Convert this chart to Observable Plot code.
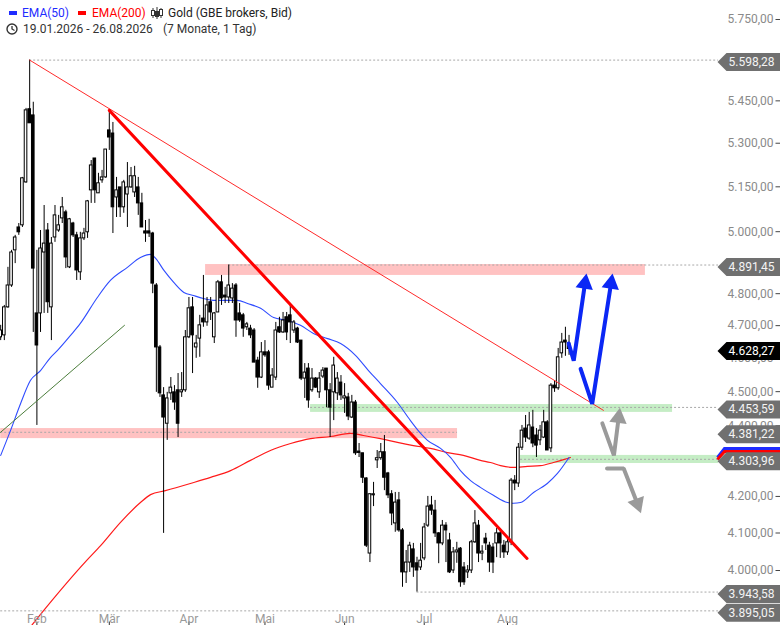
<!DOCTYPE html>
<html><head><meta charset="utf-8">
<script src="https://cdn.jsdelivr.net/npm/d3@7"></script>
<script src="https://cdn.jsdelivr.net/npm/@observablehq/plot@0.6"></script>
<style>
body{margin:0;background:#fff;font-family:Roboto,Arial,sans-serif;}
#wrap{position:relative;width:780px;height:625px;overflow:hidden;}
#hdr{position:absolute;left:0;top:0;width:400px;height:40px;font-size:12px;color:#333;}
#hdr .t{position:absolute;line-height:16px;white-space:nowrap;}
#hdr .sw{position:absolute;width:8px;height:4px;}
#hdr svg{position:absolute;}
</style></head><body>
<div id="wrap"><div id="chart"></div>
<div id="hdr">
  <div class="sw" style="left:9px;top:11px;background:#1f2cff"></div>
  <div class="t" style="left:22px;top:5px;color:#1f2cff">EMA(50)</div>
  <div class="sw" style="left:78px;top:11px;background:#ff0000"></div>
  <div class="t" style="left:92px;top:5px;color:#ff0000">EMA(200)</div>
  <svg style="left:151px;top:7px" width="12" height="12" viewBox="0 0 12 12">
    <line x1="2" y1="1" x2="2" y2="11" stroke="#333"/><rect x="0.5" y="3.5" width="3" height="5" fill="#fff" stroke="#333"/>
    <line x1="6" y1="0" x2="6" y2="12" stroke="#333"/><rect x="4.5" y="4.5" width="3" height="5" fill="#333" stroke="#333"/>
    <line x1="10" y1="1" x2="10" y2="11" stroke="#333"/><rect x="8.5" y="2.5" width="3" height="6" fill="#fff" stroke="#333"/>
  </svg>
  <div class="t" style="left:168px;top:5px;color:#222">Gold (GBE brokers, Bid)</div>
  <svg style="left:6px;top:23px" width="12" height="12" viewBox="0 0 12 12">
    <circle cx="6" cy="6" r="5" fill="none" stroke="#333" stroke-width="1.4"/>
    <polyline points="6,3 6,6 8.5,7.5" fill="none" stroke="#333" stroke-width="1.3"/>
  </svg>
  <div class="t" style="left:23px;top:21px">19.01.2026 - 26.08.2026</div>
  <div class="t" style="left:163px;top:21px">(7 Monate, 1 Tag)</div>
</div>
</div>
<script>
// ---- Candles (trading-day index = position in arrays) ----
const open  = [4664,4670,4757,4826,4939,5014,5021,5165,5420,5398,4738,4738,4932,5004,4757,4981,5004,5044,5064,4884,
5027,4988,4868,4978,4998,5138,5247,5128,5172,5182,5345,5334,5114,5148,5081,5124,5148,5131,5148,5094,
5001,5001,4994,4826,4633,4489,4406,4495,4498,4504,4498,4504,4664,4757,4633,4660,4722,4710,4773,4664,
4741,4836,4794,4788,4785,4826,4738,4732,4695,4691,4685,4593,4542,4618,4618,4512,4542,4695,4679,4726,
4732,4685,4691,4654,4539,4569,4504,4539,4498,4545,4569,4504,4498,4495,4527,4480,4483,4424,4468,4326,
4321,4250,4045,4203,4301,4307,4324,4264,4206,4126,4189,4107,3995,4021,4056,4019,4008,4032,4120,4175,
4161,4099,4072,4120,4080,4000,4048,4058,4008,3995,4000,4075,4120,4045,4085,4066,4061,4072,4099,4066,
4048,4075,4244,4236,4337,4392,4363,4395,4372,4358,4366,4410,4335,4518,4510,4615,4654,4645];
const high  = [4701,4763,4884,4939,4988,5027,5182,5423,5598.28,5445,4939,5004,5087,5027,4981,5087,5054,5114,5071,5044,
5031,4998,4998,5011,5104,5240,5247,5196,5206,5278,5416,5373,5182,5148,5172,5233,5216,5220,5182,5128,
5037,5041,4998,4832,4639,4512,4498,4542,4518,4554,4557,4685,4788,4788,4670,4732,4858,4788,4788,4741,
4842,4858,4820,4891.45,4832,4832,4769,4738,4710,4701,4691,4603,4648,4654,4624,4569,4710,4726,4741,4741,
4763,4716,4695,4654,4584,4584,4569,4542,4557,4572,4569,4524,4603,4557,4548,4524,4495,4489,4474,4349,
4321,4252,4208,4239,4329,4349,4372,4267,4216,4211,4211,4112,4053,4075,4072,4035,4072,4126,4200,4200,
4189,4101,4134,4128,4099,4061,4075,4061,4021,4013,4080,4161,4134,4066,4099,4075,4072,4112,4107,4080,
4085,4250,4258,4349,4401,4430,4439,4445,4392,4401,4445,4415,4524,4533,4630,4676,4695,4670];
const low   = [4654,4654,4754,4820,4896,4988,5014,5162,5370,4679,4401,4679,4738,4738,4654,4965,4998,5027,4880,4880,
4981,4842,4842,4971,4978,5094,5094,5128,5162,5179,5275,4994,5047,5047,5061,5014,5145,5114,5054,5014,
4965,4981,4800,4498,4483,4099,4358,4474,4445,4366,4483,4498,4660,4554,4600,4603,4695,4698,4716,4645,
4741,4763,4769,4769,4769,4664,4710,4664,4685,4660,4587,4510,4539,4603,4504,4512,4533,4676,4676,4654,
4645,4676,4645,4533,4480,4451,4498,4510,4480,4539,4453,4366,4415,4474,4474,4436,4415,4421,4315,4309,
4236,4061,4021,4172,4278,4301,4216,4194,4120,4102,4102,3956,3966,3995,3982,3943.58,4000,4026,4115,4148,
4088,4018,4066,4021,3992,3992,4019,3956,3961,3979,3992,4072,4021,4026,4053,3995,3992,4034,4032,4032,
4040,4066,4216,4225,4329,4352,4358,4337,4309,4343,4363,4329,4323,4498,4504,4600,4606,4609];
const close = [4685,4757,4826,4932,4981,4998,5179,5416,5370,4880,4639,4945,4961,4773,4961,5054,5021,5081,4916,5041,
4988,4874,4978,4994,5101,5223,5138,5162,5182,5278,5320,5081,5138,5081,5165,5148,5186,5186,5094,5014,
4994,4994,4832,4633,4495,4424,4480,4512,4468,4406,4504,4664,4754,4670,4645,4701,4710,4763,4741,4738,
4836,4785,4788,4826,4816,4716,4716,4691,4704,4670,4587,4542,4618,4609,4518,4548,4685,4679,4716,4679,
4710,4710,4648,4539,4557,4474,4539,4512,4539,4563,4504,4453,4578,4539,4489,4486,4427,4468,4321,4322,
4252,4066,4206,4206,4307,4324,4252,4203,4153,4183,4107,3995,4021,4066,4008,4000,4026,4115,4172,4161,
4099,4072,4120,4107,3995,4048,4053,3969,3969,4000,4075,4126,4045,4050,4072,4021,4021,4099,4072,4048,
4075,4244,4236,4337,4386,4366,4401,4349,4343,4386,4410,4329,4518,4510,4603,4648,4648,4628.27];

// ---- Moving averages (read at sample positions) ----
const ema50Idx = [0,2.7,5.5,8.2,11,13.8,15.7,19.3,22,26.7,30.3,35,38.6,41.4,42.8,45.1,47.8,50.6,53.3,56,58.8,62.7,65.4,68.2,71.8,75.4,79.2,82.8,86.4,90.3,93.9,98,101.6,104.9,109.6,113.2,116,117.9,121.5,124.3,127,129.8,132.5,136.1,140,141.7,143.6,147.2,151,153.8,157];
const ema50Val = [4315,4386,4465,4533,4563,4603,4624,4670,4707,4788,4842,4884,4916,4926,4913,4874,4836,4804,4794,4785,4779,4779,4779,4769,4754,4725,4716,4701,4676,4660,4645,4609,4563,4524,4468,4415,4378,4358,4335,4309,4272,4244,4225,4203,4183,4181,4183,4211,4236,4264,4309];
const ema200Idx = [7.5,11,23.7,27.6,33.1,38.6,41.4,45.5,52.4,58,63.5,69,74.5,80.1,85.6,91.1,96.6,100.2,104.9,109.6,114,118.7,123.4,127.8,132.5,135.3,138.1,141.7,145.5,149.1,152.7,155.5,157.4];
const ema200Val = [3846,3886,4026,4066,4129,4183,4205,4216,4236,4253,4272,4301,4329,4349,4363,4369,4378,4372,4363,4352,4343,4335,4323,4315,4301,4295,4286,4281,4284,4286,4295,4303,4309];

// ---- Axis ticks ----
const monthIdx = [10,30,52,73,95,117,140];
const monthLabels = ["Feb","Mär","Apr","Mai","Jun","Jul","Aug"];
const yTicks = [5750,5450,5300,5150,5000,4800,4700,4600,4500,4400,4200,4100,4000];

// ---- Price levels / tags ----
const levelPrices = [5598.28,4891.45,4453.59,4381.22,4303.96,3943.58,3895.05];
const levelFrom   = [8,63,85.6,0,143.6,115,0];
const levelTo     = [198.3,198.3,198.3,126.2,198.3,198.3,198.3];
const currentPrice = 4628.27;

// ---- Zones ----
const zoneFrom = [56.6,85.6,0,143.6];
const zoneTo   = [178.1,185.6,126.2,198.3];
const zoneLow  = [4858,4439,4363,4292];
const zoneHigh = [4893,4462,4392,4315];
const zoneKind = ["res","sup","res","sup"];

// ---- Trend lines ----
const thinRedIdx = [8,166.5], thinRedVal = [5598.28,4445];
const thickRedIdx = [30,145.4], thickRedVal = [5416,4032];
const greenIdx = [-0.05,34.2], greenVal = [4381,4701];

// ---- Scenario arrows ----
const blue1Idx = [156.9,158.3,161.4], blue1Val = [4645,4593,4832];
const blue2Idx = [160.2,163.4,168.6], blue2Val = [4568,4464,4832];
const greyUpIdx = [166.2,169.4,170.7], greyUpVal = [4407,4315,4423];
const greyDnIdx = [167.5,172.1,175.9], greyDnVal = [4278,4278,4180];
const headAngleBlue = 8.8, headAngleUp = 7.5, headAngleDn = 159.6;

// ---- build ----
const candles = open.map((o,i)=>({i,o,h:high[i],l:low[i],c:close[i]}));
const upC = candles.filter(d=>d.c>=d.o), dnC = candles.filter(d=>d.c<d.o);
const pts = (xs,ys)=>xs.map((x,k)=>({i:x,p:ys[k]}));
const ema50 = pts(ema50Idx,ema50Val), ema200 = pts(ema200Idx,ema200Val);
const zones = zoneFrom.map((x,k)=>({x1:x,x2:zoneTo[k],p1:zoneLow[k],p2:zoneHigh[k],kind:zoneKind[k]}));
const levels = levelPrices.map((p,k)=>({p,from:levelFrom[k],to:levelTo[k]}));
const tags = levelPrices.map(p=>({p}));
const months = monthIdx.map((i,k)=>({i,label:monthLabels[k]}));
const blueHeads = [{i:blue1Idx[2],p:blue1Val[2],a:headAngleBlue},{i:blue2Idx[2],p:blue2Val[2],a:headAngleBlue}];
const greyHeads = [{i:greyUpIdx[2],p:greyUpVal[2],a:headAngleUp},{i:greyDnIdx[2],p:greyDnVal[2],a:headAngleDn}];

function de(v){const s=v.toFixed(2).split(".");return s[0].replace(/\B(?=(\d{3})+(?!\d))/g,".")+","+s[1];}

const tagSym = {draw(c){c.moveTo(-1,0);c.lineTo(8,-9);c.lineTo(62,-9);c.lineTo(62,9);c.lineTo(8,9);c.closePath();}};
const dashSym = {draw(c){c.moveTo(57,0);c.lineTo(62,0);}};
const xTickSym = {draw(c){c.moveTo(0,-4);c.lineTo(0,0);}};
const emaBlueSym = {draw(c){c.moveTo(-1,0);c.lineTo(6,-9);c.lineTo(62,-9);}};
const emaRedSym = {draw(c){c.moveTo(-1,2);c.lineTo(6,-6);c.lineTo(62,-6);}};

const bw = 0.36;
const chart = Plot.plot({
  width:780, height:625, marginLeft:0, marginRight:62, marginTop:0, marginBottom:0,
  x:{domain:[-0.055,198.29], axis:null},
  y:{type:"log", domain:[3857.7,5822.4], axis:null},
  style:{fontFamily:"Roboto, Arial, sans-serif", fontSize:"12px", background:"#fff", overflow:"visible"},
  marks:[
    Plot.rect(zones.filter(d=>d.kind==="res"),{x1:"x1",x2:"x2",y1:"p1",y2:"p2",fill:"#ffc2c2"}),
    Plot.rect(zones.filter(d=>d.kind==="sup"),{x1:"x1",x2:"x2",y1:"p1",y2:"p2",fill:"#c5edc5"}),
    Plot.ruleY(levels,{y:"p",x1:"from",x2:"to",stroke:"#a8a8a8",strokeDasharray:"2,2"}),
    Plot.line(ema200,{x:"i",y:"p",stroke:"#ff1a1a",strokeWidth:1.2,curve:"monotone-x",clip:true}),
    Plot.line(ema50,{x:"i",y:"p",stroke:"#2f4cff",strokeWidth:1.1,curve:"monotone-x",clip:true}),
    Plot.ruleX(candles,{x:"i",y1:"l",y2:"h",stroke:"#000",strokeWidth:1,clip:true}),
    Plot.rect(upC,{x1:d=>d.i-bw,x2:d=>d.i+bw,y1:"o",y2:"c",fill:"#fff",stroke:"#000",strokeWidth:1,clip:true}),
    Plot.rect(dnC,{x1:d=>d.i-bw,x2:d=>d.i+bw,y1:"o",y2:"c",fill:"#000",stroke:"#000",strokeWidth:1,clip:true}),
    Plot.line(pts(greenIdx,greenVal),{x:"i",y:"p",stroke:"#4b7d3b",strokeWidth:1,clip:true}),
    Plot.line(pts(thinRedIdx,thinRedVal),{x:"i",y:"p",stroke:"#ff2a2a",strokeWidth:1,clip:true}),
    Plot.line(pts(thickRedIdx,thickRedVal),{x:"i",y:"p",stroke:"#ff0000",strokeWidth:3,clip:true}),
    Plot.line(pts(blue1Idx,blue1Val),{x:"i",y:"p",stroke:"#0b27f5",strokeWidth:4,strokeLinejoin:"miter"}),
    Plot.line(pts(blue2Idx,blue2Val),{x:"i",y:"p",stroke:"#0b27f5",strokeWidth:4,strokeLinejoin:"miter"}),
    Plot.dot(blueHeads,{x:"i",y:"p",symbol:"triangle",r:6.5,rotate:"a",fill:"#0b27f5"}),
    Plot.line(pts(greyUpIdx,greyUpVal),{x:"i",y:"p",stroke:"#9a9a9a",strokeWidth:4,strokeLinejoin:"miter"}),
    Plot.line(pts(greyDnIdx,greyDnVal),{x:"i",y:"p",stroke:"#9a9a9a",strokeWidth:4,strokeLinejoin:"miter"}),
    Plot.dot(greyHeads,{x:"i",y:"p",symbol:"triangle",r:6.5,rotate:"a",fill:"#9a9a9a"}),
    // x axis
    Plot.dot(months,{x:"i",frameAnchor:"bottom",symbol:xTickSym,stroke:"#333",strokeWidth:1}),
    Plot.text(months,{x:"i",text:"label",frameAnchor:"bottom",lineAnchor:"bottom",dy:-3,fill:"#999",fontSize:12}),
    // y axis
    Plot.text(yTicks,{y:d=>d,text:d=>de(d),frameAnchor:"right",dx:55,textAnchor:"end",fill:"#8a8a8a",fontSize:12}),
    Plot.dot(yTicks,{y:d=>d,frameAnchor:"right",symbol:dashSym,stroke:"#444",strokeWidth:1}),
    // EMA markers on axis
    Plot.dot([ema50Val[ema50Val.length-1]],{y:d=>d,frameAnchor:"right",symbol:emaBlueSym,stroke:"#1f2cff",strokeWidth:3,fill:"none"}),
    Plot.dot([ema200Val[ema200Val.length-1]],{y:d=>d,frameAnchor:"right",symbol:emaRedSym,stroke:"#ff0000",strokeWidth:3,fill:"none"}),
    // tags
    Plot.dot(tags,{y:"p",frameAnchor:"right",dy:2,symbol:tagSym,fill:"#707070"}),
    Plot.text(tags,{y:"p",text:d=>de(d.p),frameAnchor:"right",dx:10,dy:2,textAnchor:"start",fill:"#f4f4f4",fontSize:12}),
    Plot.dot([{p:currentPrice}],{y:"p",frameAnchor:"right",dy:2,symbol:tagSym,fill:"#000"}),
    Plot.text([{p:currentPrice}],{y:"p",text:d=>de(d.p),frameAnchor:"right",dx:10,dy:2,textAnchor:"start",fill:"#fff",fontSize:12})
  ]
});
document.getElementById("chart").appendChild(chart);
</script>
</body></html>
